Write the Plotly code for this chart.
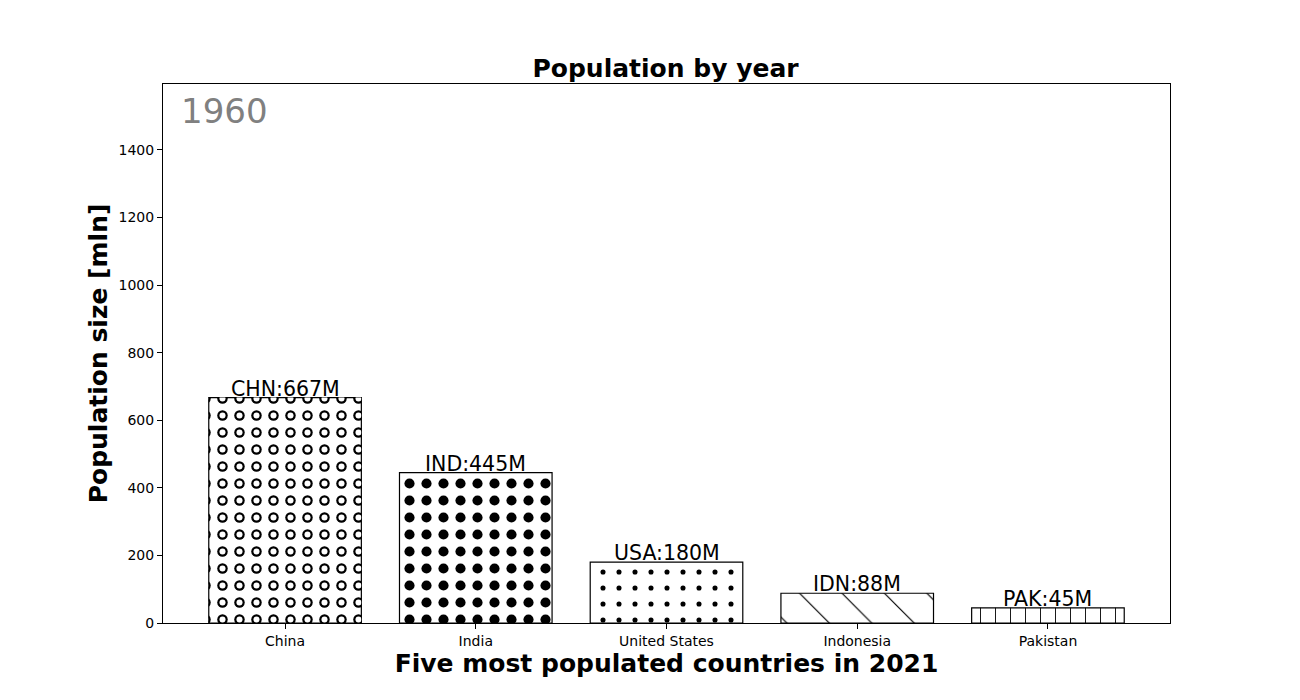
import plotly.graph_objects as go

countries = ["China", "India", "United States", "Indonesia", "Pakistan"]
codes = ["CHN", "IND", "USA", "IDN", "PAK"]
population = [667, 445, 180, 88, 45]
year = "1960"

labels = [f"{c}:{p}M" for c, p in zip(codes, population)]

fig = go.Figure()

# main bars with hatch-like patterns
fig.add_trace(go.Bar(
    x=countries,
    y=population,
    width=0.8,
    marker=dict(
        color="white",
        line=dict(color="black", width=1.2),
        pattern=dict(
            shape=[".", ".", ".", "\\", "|"],
            size=[17, 17, 16, 30, 15],
            solidity=[0.3, 0.28, 0.08, 0.04, 0.06],
            fgcolor="black",
            bgcolor="white",
            fillmode="replace",
        ),
    ),
    showlegend=False,
    hoverinfo="skip",
))

# white centres on the China dots so they read as rings
fig.add_trace(go.Bar(
    x=countries[:1],
    y=population[:1],
    width=0.8,
    marker=dict(
        color="rgba(0,0,0,0)",
        line=dict(width=0),
        pattern=dict(shape=".", size=17, solidity=0.1,
                     fgcolor="white", bgcolor="rgba(0,0,0,0)", fillmode="replace"),
    ),
    showlegend=False,
    hoverinfo="skip",
))

for c, p, lab in zip(countries, population, labels):
    fig.add_annotation(x=c, y=p, text=lab, showarrow=False, yanchor="bottom",
                       yshift=-5, font=dict(size=20.5, color="black"))

fig.add_annotation(x=0.016, y=0.99, xref="paper", yref="paper", text=year,
                   showarrow=False, xanchor="left", yanchor="top",
                   font=dict(size=34, color="#808080"))

fig.update_layout(
    width=1300, height=700,
    barmode="overlay",
    plot_bgcolor="white", paper_bgcolor="white",
    font=dict(family="DejaVu Sans", color="black"),
    margin=dict(l=155, r=138, t=76, b=85),
    title=dict(text="<b>Population by year</b>", x=0.5058, xanchor="center",
               y=0.914, yanchor="middle", font=dict(size=25)),
)
fig.update_xaxes(
    range=[-0.64, 4.64], showline=True, linecolor="black", linewidth=1, mirror=True,
    ticks="outside", ticklen=5, tickcolor="black", tickfont=dict(size=14),
    title=dict(text="<b>Five most populated countries in 2021</b>", font=dict(size=25), standoff=6),
    showgrid=False,
)
fig.update_yaxes(
    range=[0, 1595], showline=True, linecolor="black", linewidth=1, mirror=True,
    ticks="outside", ticklen=5, tickcolor="black", tickfont=dict(size=14),
    tickvals=[0, 200, 400, 600, 800, 1000, 1200, 1400],
    title=dict(text="<b>Population size [mln]</b>", font=dict(size=25), standoff=3),
    showgrid=False, zeroline=False,
)

fig.write_html("out.html")
